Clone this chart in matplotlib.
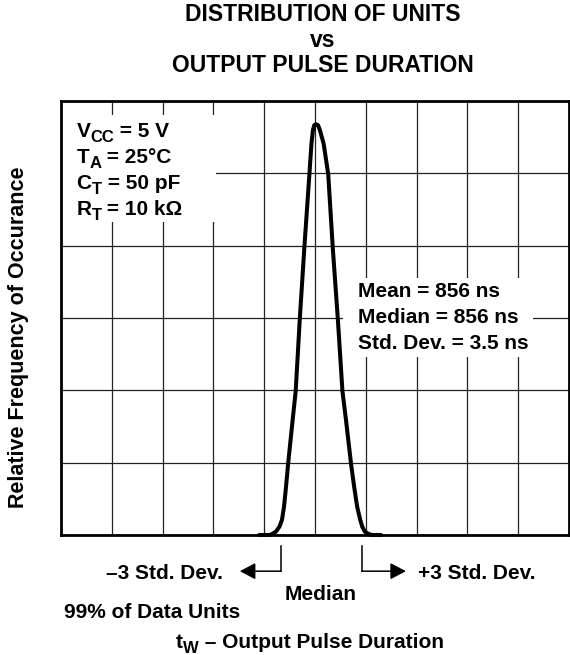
"""
Distribution of units vs output pulse duration (datasheet style chart).
"""
import matplotlib
matplotlib.use("Agg")
import matplotlib.pyplot as plt
from matplotlib.patches import Rectangle
from matplotlib.transforms import offset_copy

plt.rcParams["font.family"] = ["Liberation Sans", "DejaVu Sans"]
plt.rcParams["font.weight"] = "bold"

# curve, in grid divisions (x: 10 divisions, y: 6 divisions)
curve_x = [3.9, 4.10, 4.15, 4.23, 4.30, 4.35, 4.39, 4.43, 4.47, 4.56, 4.62, 4.70, 4.79,
           4.89, 4.93, 4.96, 4.985, 5.02, 5.06, 5.095, 5.17, 5.26, 5.35, 5.45, 5.54,
           5.61, 5.71, 5.77, 5.83, 5.89, 5.93, 5.98, 6.07, 6.12, 6.3]
curve_y = [0.0, 0.0, 0.01, 0.046, 0.115, 0.21, 0.39, 0.67, 0.98, 1.59, 1.99, 2.98, 3.97,
           4.99, 5.41, 5.60, 5.665, 5.68, 5.665, 5.60, 5.41, 4.99, 3.97, 2.98, 1.99,
           1.59, 0.98, 0.67, 0.39, 0.21, 0.115, 0.046, 0.01, 0.0, 0.0]

# -3 / +3 std. dev. marker positions and median
minus_3sd = 4.33
plus_3sd = 5.92
median_x = 5.12

# (main, subscript, rest)
conditions = [("V", "CC", " = 5 V"), ("T", "A", " = 25°C"),
              ("C", "T", " = 50 pF"), ("R", "T", " = 10 kΩ")]
stats = ["Mean = 856 ns", "Median = 856 ns", "Std. Dev. = 3.5 ns"]
title_lines = ["DISTRIBUTION OF UNITS", "vs", "OUTPUT PULSE DURATION"]

fig = plt.figure(figsize=(5.7, 6.55), dpi=100)
ax = fig.add_axes([61/570, 120/655, 508/570, 434/655])
renderer = fig.canvas.get_renderer()


def sub_text(x, y, parts, size=15, sub_size=12, drop=5, ha="left"):
    # draws main letter + lowered subscript + rest, all on one baseline
    pieces = [(parts[0], size, 0), (parts[1], sub_size, -drop), (parts[2], size, 0)]
    widths = []
    for s, fs, dy in pieces:
        t = fig.text(0, 0, s, fontsize=fs)
        widths.append(t.get_window_extent(renderer).width)
        t.remove()
    dx = -sum(widths) / 2 if ha == "center" else 0
    for (s, fs, dy), w in zip(pieces, widths):
        tr = offset_copy(ax.transData, fig=fig, x=dx, y=dy, units="dots")
        ax.text(x, y, s, fontsize=fs, transform=tr, va="baseline", ha="left",
                zorder=4, clip_on=False)
        dx += w


ax.set_xlim(0, 10)
ax.set_ylim(0, 6)
ax.set_xticks(range(11))
ax.set_yticks(range(7))
ax.tick_params(length=0, labelbottom=False, labelleft=False)
ax.set_axisbelow(True)
ax.grid(True, color="#222222", lw=0.9)
for s in ax.spines.values():
    s.set_linewidth(2.0)

# white boxes behind the text blocks (grid lines are broken there)
ax.add_patch(Rectangle((0, 4.33), 3.05, 1.48, facecolor="white", edgecolor="none", zorder=1))
ax.add_patch(Rectangle((5.55, 2.46), 3.74, 1.09, facecolor="white", edgecolor="none", zorder=1))

ax.plot(curve_x, curve_y, color="black", lw=2.9, solid_joinstyle="round",
        solid_capstyle="round", zorder=3, clip_on=False)

for i, parts in enumerate(conditions):
    sub_text(0.305, 5.507 - i*0.36, parts)
for i, t in enumerate(stats):
    ax.text(5.843, 3.286 - i*0.36, t, fontsize=15, va="baseline", ha="left", zorder=4)

# bracket arrows under the axis
y_top, y_arr = -0.15, -0.50
ax.plot([minus_3sd, minus_3sd], [y_top, y_arr], color="black", lw=1.1, clip_on=False)
ax.plot([plus_3sd, plus_3sd], [y_top, y_arr], color="black", lw=1.1, clip_on=False)
arrow = dict(arrowstyle="-|>,head_length=0.95,head_width=0.5", color="black", lw=1.1,
             shrinkA=0, shrinkB=0, mutation_scale=10)
ax.annotate("", xy=(3.52, y_arr), xytext=(minus_3sd, y_arr), arrowprops=arrow,
            annotation_clip=False)
ax.annotate("", xy=(6.79, y_arr), xytext=(plus_3sd, y_arr), arrowprops=arrow,
            annotation_clip=False)

ax.text(3.18, -0.61, "–3 Std. Dev.", fontsize=15, ha="right", va="baseline")
ax.text(7.03, -0.61, "+3 Std. Dev.", fontsize=15, ha="left", va="baseline")
ax.text(median_x, -0.90, "Median", fontsize=15, ha="center", va="baseline")
ax.text(0.05, -1.15, "99% of Data Units", fontsize=15, ha="left", va="baseline")
sub_text(4.9, -1.56, ("t", "W", " – Output Pulse Duration"), ha="center")

fig.text(19/570, 1 - 337/655, "Relative Frequency of Occurance", fontsize=15.5,
         rotation=90, ha="center", va="center")

for t, yb in zip(title_lines, [20.7, 46.7, 71.7]):
    fig.text(323/570, 1 - yb/655, t, fontsize=16.5, ha="center", va="baseline")

fig.savefig("out.png", dpi=100)
